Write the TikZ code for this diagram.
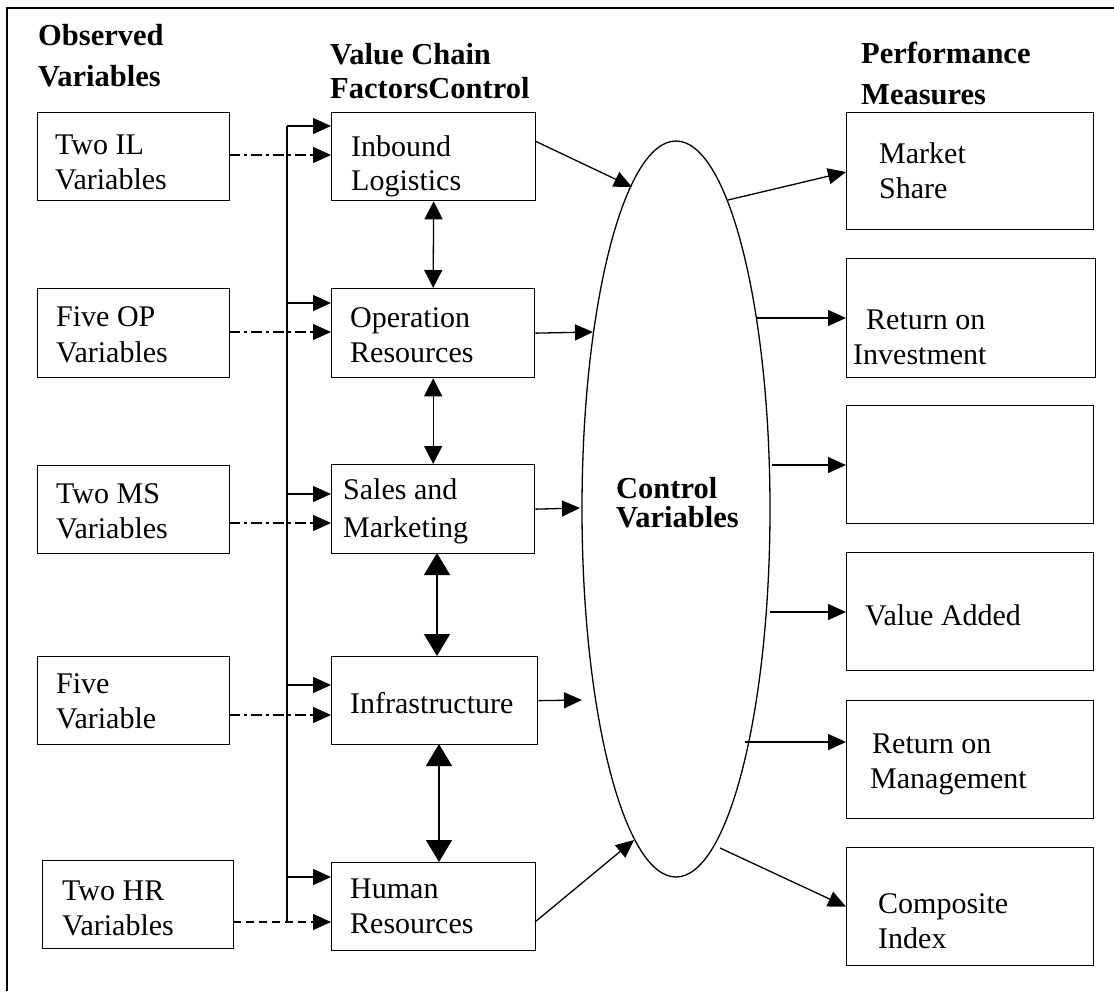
\documentclass[tikz,border=0pt]{standalone}
\usepackage{fontspec}
\setmainfont{Liberation Serif}
\usetikzlibrary{arrows.meta,shapes.geometric}
\begin{document}
\begin{tikzpicture}[x=1pt,y=-1pt,
  box/.style={draw,line width=1.3pt,inner sep=0pt,anchor=north west},
  txt/.style={anchor=base west,inner sep=0pt,font=\fontsize{30}{35}\selectfont},
  hdr/.style={anchor=base west,inner sep=0pt,font=\fontsize{30.5}{35}\selectfont\bfseries},
  ln/.style={line width=1.3pt},
  arr/.style={ln,-{Triangle[length=18pt,width=16pt]}},
  dbl/.style={ln,{Triangle[length=18pt,width=18pt]}-{Triangle[length=18pt,width=18pt]}},
  bigdbl/.style={ln,{Triangle[length=22pt,width=26pt]}-{Triangle[length=22pt,width=26pt]}},
  dashdot/.style={dash pattern=on 11pt off 4pt on 3pt off 4pt},
  dsh/.style={dash pattern=on 8pt off 5pt}]
\useasboundingbox (0,0) rectangle (1114,991);
% frame
\coordinate (ftl) at (7,8);
\coordinate (ftr) at (1114,8);
\coordinate (fbl) at (7,991);
\draw[line width=1.8pt] (ftr) -- (ftl) -- (fbl);

% headers
\node[hdr] (h1a) at (38,45) {Observed};
\node[hdr] (h1b) at (38,86) {Variables};
\node[hdr] (h2a) at (330,64) {Value Chain};
\node[hdr] (h2b) at (330,98) {FactorsControl};
\node[hdr] (h3a) at (861,63) {Performance};
\node[hdr] (h3b) at (861,104) {Measures};

% left boxes
\node[box,minimum width=192pt,minimum height=88pt] (lil) at (37,112) {};
\node[box,minimum width=192pt,minimum height=89pt] (lop) at (37,288) {};
\node[box,minimum width=192pt,minimum height=88pt] (lms) at (37,465) {};
\node[box,minimum width=192pt,minimum height=88pt] (lin) at (37,656) {};
\node[box,minimum width=191pt,minimum height=88pt] (lhr) at (42,860) {};
\node[txt] (tl1a) at (55,154) {Two IL};
\node[txt] (tl1b) at (55,189) {Variables};
\node[txt] (tl2a) at (56,326) {Five OP};
\node[txt] (tl2b) at (56,362) {Variables};
\node[txt] (tl3a) at (56,503) {Two MS};
\node[txt] (tl3b) at (56,538) {Variables};
\node[txt] (tl4a) at (56,693) {Five};
\node[txt] (tl4b) at (56,728) {Variable};
\node[txt] (tl5a) at (62,900) {Two HR};
\node[txt] (tl5b) at (62,935) {Variables};

% middle boxes
\node[box,minimum width=204pt,minimum height=88pt] (il) at (331,112) {};
\node[box,minimum width=203pt,minimum height=89pt] (op) at (331,288) {};
\node[box,minimum width=203pt,minimum height=89pt] (sm) at (331,464) {};
\node[box,minimum width=206pt,minimum height=88pt] (inf) at (331,656) {};
\node[box,minimum width=204pt,minimum height=88pt] (hr) at (331,862) {};
\node[txt] (tm1a) at (351,156) {Inbound};
\node[txt] (tm1b) at (351,190) {Logistics};
\node[txt] (tm2a) at (350,327) {Operation};
\node[txt] (tm2b) at (350,362) {Resources};
\node[txt] (tm3a) at (343,499) {Sales and};
\node[txt] (tm3b) at (343,537) {Marketing};
\node[txt] (tm4) at (350,713) {Infrastructure};
\node[txt] (tm5a) at (350,898) {Human};
\node[txt] (tm5b) at (350,933) {Resources};

% ellipse
\node[draw,ellipse,line width=1.3pt,inner sep=0pt,minimum width=188pt,minimum height=736pt] (ell) at (676,509) {};
\node[hdr] (cva) at (616,498) {Control};
\node[hdr] (cvb) at (616,527) {Variables};

% right boxes
\node[box,minimum width=247pt,minimum height=117pt] (ms) at (846,112) {};
\node[box,minimum width=249pt,minimum height=119pt] (roi) at (846,258) {};
\node[box,minimum width=247pt,minimum height=118pt] (emp) at (846,405) {};
\node[box,minimum width=247pt,minimum height=118pt] (va) at (846,552) {};
\node[box,minimum width=247pt,minimum height=118pt] (rom) at (846,700) {};
\node[box,minimum width=247pt,minimum height=118pt] (ci) at (846,847) {};
\node[txt] (tr1a) at (879,163) {Market};
\node[txt] (tr1b) at (879,198) {Share};
\node[txt] (tr2a) at (866,329) {Return on};
\node[txt] (tr2b) at (853,364) {Investment};
\node[txt] (tr4) at (865,625) {Value Added};
\node[txt] (tr5a) at (872,753) {Return on};
\node[txt] (tr5b) at (870,788) {Management};
\node[txt] (tr6a) at (878,913) {Composite};
\node[txt] (tr6b) at (878,948) {Index};

% vertical bus
\coordinate (v1) at (287,126);
\coordinate (v2) at (287,303);
\coordinate (v3) at (287,494);
\coordinate (v4) at (287,685);
\coordinate (v5) at (287,877);
\coordinate (v6) at (287,922);
\draw[ln] (v1) -- (v6);
\draw[arr] (v1) -- (v1 -| il.west);
\draw[arr] (v2) -- (v2 -| op.west);
\draw[arr] (v3) -- (v3 -| sm.west);
\draw[arr] (v4) -- (v4 -| inf.west);
\draw[arr] (v5) -- (v5 -| hr.west);

% dash-dot inputs
\coordinate (d1) at (229,155);
\coordinate (d2) at (229,332);
\coordinate (d3) at (229,523);
\coordinate (d4) at (229,715);
\coordinate (d5) at (233,922);
\draw[arr,dashdot] (d1) -- (d1 -| il.west);
\draw[arr,dashdot] (d2) -- (d2 -| op.west);
\draw[arr,dashdot] (d3) -- (d3 -| sm.west);
\draw[arr,dashdot] (d4) -- (d4 -| inf.west);
\draw[arr,dsh] (d5) -- (d5 -| hr.west);

% double arrows between middle boxes
\draw[dbl] (il.south) -- (op.north);
\draw[dbl] (op.south) -- (sm.north);
\coordinate (c3) at (437,553);
\coordinate (c4) at (439,744);
\draw[bigdbl] (c3) -- (c3 |- inf.north);
\draw[bigdbl] (c4) -- (c4 |- hr.north);

% into ellipse
\coordinate (a1s) at (535,141);
\coordinate (a1t) at (632,187);
\coordinate (a2t) at (593,332);
\coordinate (a3t) at (580,508);
\coordinate (a4t) at (582,700);
\coordinate (a5s) at (535,922);
\coordinate (a5t) at (634,840);
\draw[arr] (a1s) -- (a1t);
\draw[arr] (op.east) -- (a2t);
\draw[arr] (sm.east) -- (a3t);
\draw[arr] (inf.east) -- (a4t);
\draw[arr] (a5s) -- (a5t);

% out of ellipse
\coordinate (b1) at (728,200);
\coordinate (b1t) at (846,172);
\coordinate (b2) at (757,318);
\coordinate (b3) at (772,465);
\coordinate (b4) at (770,612);
\coordinate (b5) at (745,742);
\coordinate (b6) at (720,848);
\draw[arr] (b1) -- (b1t);
\draw[arr] (b2) -- (b2 -| roi.west);
\draw[arr] (b3) -- (b3 -| emp.west);
\draw[arr] (b4) -- (b4 -| va.west);
\draw[arr] (b5) -- (b5 -| rom.west);
\draw[arr] (b6) -- (ci.west);
\end{tikzpicture}
\end{document}
